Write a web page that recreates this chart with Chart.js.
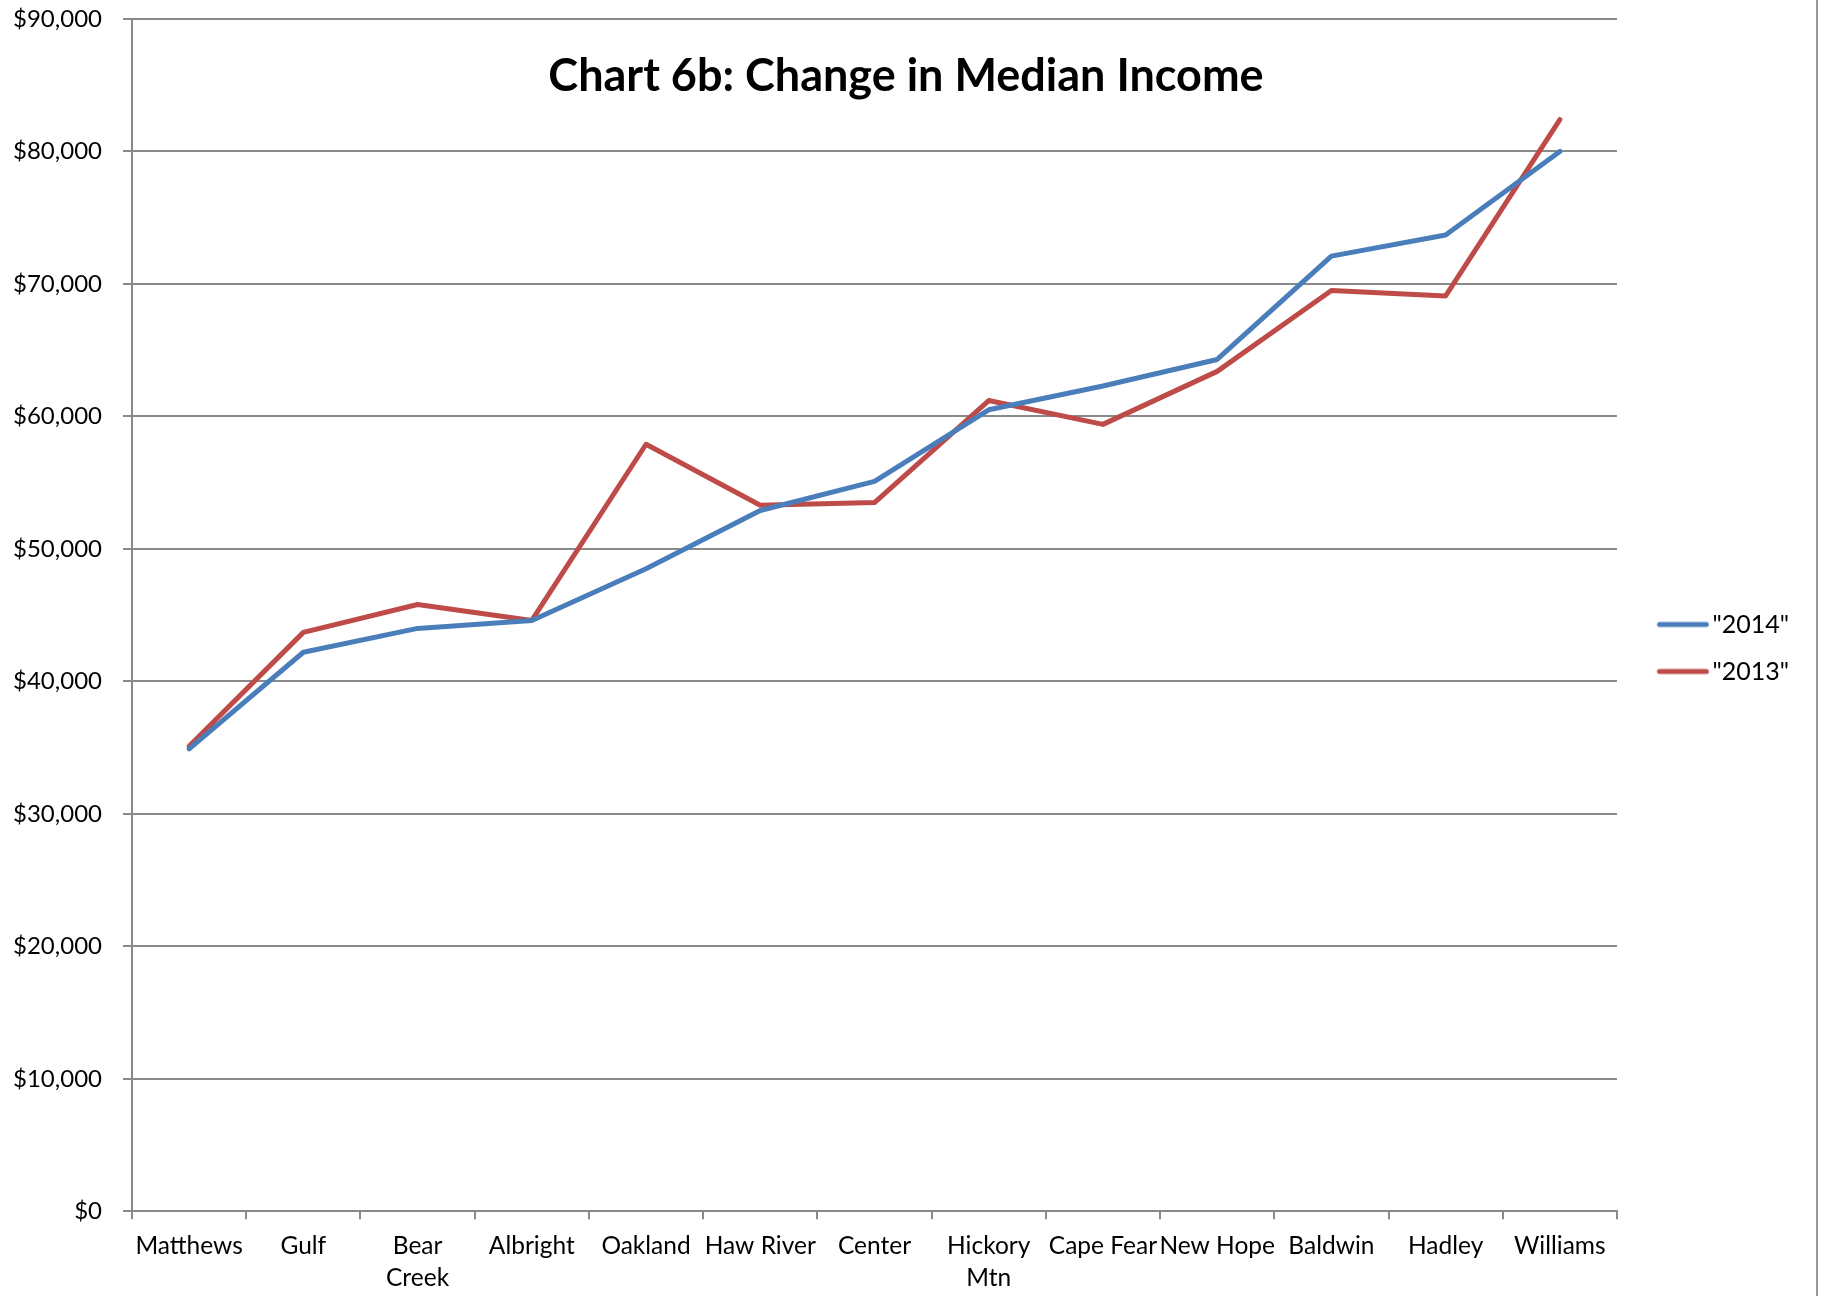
<!DOCTYPE html>
<html>
<head>
<meta charset="utf-8">
<script src="https://cdn.jsdelivr.net/npm/chart.js@4.4.1/dist/chart.umd.min.js"></script>
<style>
  html, body { margin: 0; padding: 0; background: #fff; }
  #wrap { width: 1830px; height: 1296px; }
</style>
</head>
<body>
<div id="wrap"><canvas id="incomeChart"></canvas></div>
<script>
const townships = ['Matthews', 'Gulf', ['Bear', 'Creek'], 'Albright', 'Oakland', 'Haw River', 'Center',
  ['Hickory', 'Mtn'], 'Cape Fear', 'New Hope', 'Baldwin', 'Hadley', 'Williams'];
const income2014 = [34900, 42200, 44000, 44600, 48500, 52900, 55100, 60500, 62300, 64300, 72100, 73700, 80000];
const income2013 = [35100, 43700, 45800, 44600, 57900, 53300, 53500, 61200, 59400, 63400, 69500, 69100, 82400];
const yTicks = [0, 10000, 20000, 30000, 40000, 50000, 60000, 70000, 80000, 90000];

const FONT = 'Lato, "Open Sans", sans-serif';
const GRID = '#8a8a8a';
const BLUE = '#4A7EBB';
const RED = '#BE4B48';

// legend swatch: a short thick line, nudged right so it sits close to the text
function swatch(color) {
  const shift = 19;
  const c = document.createElement('canvas');
  c.width = 53 + shift;
  c.height = 8;
  const g = c.getContext('2d');
  g.strokeStyle = color;
  g.lineWidth = 5;
  g.lineCap = 'round';
  g.beginPath();
  g.moveTo(shift + 3, 4);
  g.lineTo(shift + 50, 4);
  g.stroke();
  return c;
}

// title sits inside the plot, like the Excel original
const overlayTitle = {
  id: 'overlayTitle',
  afterDraw(chart) {
    const ctx = chart.ctx;
    ctx.save();
    ctx.font = 'bold 45px ' + FONT;
    ctx.fillStyle = '#000';
    ctx.textAlign = 'center';
    ctx.textBaseline = 'middle';
    ctx.fillText('Chart 6b: Change in Median Income', 906, 76);
    // right edge of the chart frame
    ctx.strokeStyle = '#9a9a9a';
    ctx.lineWidth = 2;
    ctx.beginPath();
    ctx.moveTo(1817, 0);
    ctx.lineTo(1817, chart.height);
    ctx.stroke();
    ctx.restore();
  }
};

new Chart(document.getElementById('incomeChart'), {
  type: 'line',
  data: {
    labels: townships,
    datasets: [
      { label: '"2014"', data: income2014, borderColor: BLUE, backgroundColor: BLUE, pointStyle: swatch(BLUE),
        borderWidth: 5, pointRadius: 0, tension: 0, borderCapStyle: 'round', borderJoinStyle: 'round' },
      { label: '"2013"', data: income2013, borderColor: RED, backgroundColor: RED, pointStyle: swatch(RED),
        borderWidth: 5, pointRadius: 0, tension: 0, borderCapStyle: 'round', borderJoinStyle: 'round' }
    ]
  },
  options: {
    responsive: true,
    maintainAspectRatio: false,
    animation: false,
    layout: { padding: { top: 0, right: 31, bottom: 0, left: 0 } },
    plugins: {
      title: { display: false },
      tooltip: { enabled: false },
      legend: {
        position: 'right',
        labels: {
          usePointStyle: true,
          pointStyleWidth: 53,
          padding: 22,
          color: '#000',
          font: { family: FONT, size: 25 }
        }
      }
    },
    scales: {
      x: {
        offset: true,
        afterFit(scale) { scale.height -= 9; },
        grid: { offset: true, drawOnChartArea: false, drawTicks: true, tickLength: 8, color: GRID, lineWidth: 2 },
        border: { color: GRID, width: 2 },
        ticks: { autoSkip: false, maxRotation: 0, padding: 11, color: '#000',
          font: { family: FONT, size: 24.5, lineHeight: 1.3 } }
      },
      y: {
        min: 0,
        max: 90000,
        afterBuildTicks(scale) { scale.ticks = yTicks.map(v => ({ value: v })); },
        afterFit(scale) {
          scale.width = 132;
          // top of the plot sits 19px down; the top label overhangs
          scale.paddingTop = 19;
          scale.paddingBottom = 0;
        },
        grid: { color: GRID, lineWidth: 2, tickLength: 9 },
        border: { color: GRID, width: 2 },
        ticks: { padding: 21, color: '#000', font: { family: FONT, size: 24 },
          callback: v => '$' + v.toLocaleString('en-US') }
      },
      // empty spacer between the plot and the legend
      gap: {
        type: 'linear',
        position: 'right',
        display: true,
        afterFit(scale) { scale.width = 8; scale.paddingTop = 0; scale.paddingBottom = 0; },
        grid: { display: false },
        border: { display: false },
        ticks: { display: false }
      }
    }
  },
  plugins: [overlayTitle]
});
</script>
</body>
</html>
